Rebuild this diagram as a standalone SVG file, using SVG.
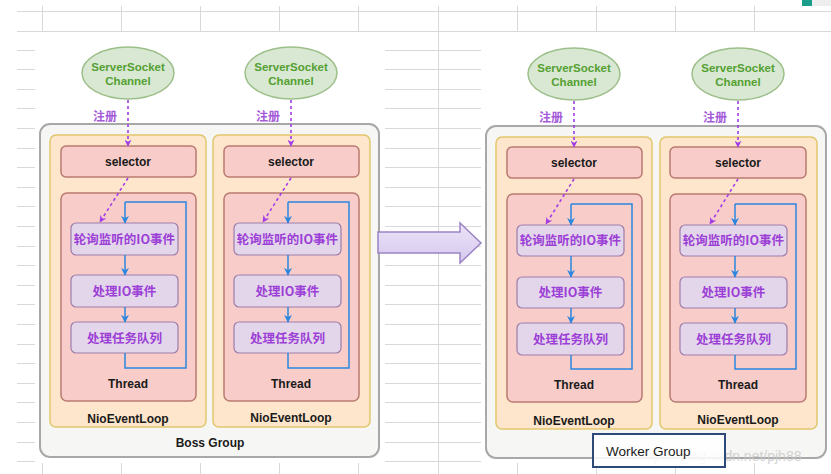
<svg xmlns="http://www.w3.org/2000/svg" width="831" height="474" viewBox="0 0 831 474">
<style>
.grid{stroke:#d9d9d9;stroke-width:1;fill:none}
.group{fill:#f6f6f4;stroke:#a8a8a8;stroke-width:2}
.loop{fill:#fde6cb;stroke:#e2c66c;stroke-width:1.5}
.red{fill:#f8cdc9;stroke:#b97a72;stroke-width:1.5}
.step{fill:#e4d6ea;stroke:#9c7daa;stroke-width:1.2}
.ell{fill:#d8e8d2;stroke:#9dbf8a;stroke-width:1.5}
.b{font-family:"Liberation Sans",Arial,sans-serif;font-weight:bold;font-size:12px;fill:#1a1a1a;text-anchor:middle}
.g{font-family:"Liberation Sans",Arial,sans-serif;font-weight:bold;font-size:11.5px;fill:#55a032;text-anchor:middle}
.cn{font-family:"Noto Sans CJK SC",sans-serif;font-weight:bold;font-size:12.5px;fill:#9b3fd6;text-anchor:middle}
.reg{font-family:"Noto Sans CJK SC",sans-serif;font-weight:bold;font-size:12px;fill:#a45bd8}
.pd{stroke:#a23be8;stroke-width:1.6;stroke-dasharray:3,3;fill:none;marker-end:url(#pa)}
.bl{stroke:#2a86de;stroke-width:1.5;fill:none}
.bla{stroke:#2a86de;stroke-width:1.5;fill:none;marker-end:url(#ba)}
</style>
<defs>
<marker id="pa" viewBox="0 0 10 10" refX="9" refY="5" markerWidth="7" markerHeight="7" orient="auto" markerUnits="userSpaceOnUse"><path d="M0,0 L10,5 L0,10 L3,5 z" fill="#a23be8"/></marker>
<marker id="ba" viewBox="0 0 10 10" refX="9" refY="5" markerWidth="8" markerHeight="8" orient="auto" markerUnits="userSpaceOnUse"><path d="M0,0 L10,5 L0,10 L3,5 z" fill="#2a86de"/></marker>
<linearGradient id="ag" x1="0" y1="0" x2="0" y2="1"><stop offset="0" stop-color="#ece4f8"/><stop offset="1" stop-color="#d6c8ee"/></linearGradient>
</defs>
<rect width="831" height="474" fill="#ffffff"/>
<g id="grid" class="grid">
<path d="M17,11.5H831 M17,31.5H831"/>
<path d="M42.5,6V31 M121.5,6V31 M200.5,6V31 M279.5,6V31 M358.5,6V31 M517.5,6V31 M596.5,6V31 M675.5,6V31 M754.5,6V31 M438.5,6V474"/>
<path d="M42.5,463V474 M121.5,463V474 M200.5,463V474 M279.5,463V474 M358.5,463V474 M517.5,463V474 M596.5,463V474 M675.5,463V474 M754.5,463V474"/>
<path d="M17,50.5H35 M17,69.5H35 M17,89.5H35 M17,108.5H35 M17,128.5H35 M17,148.5H35 M17,167.5H35 M17,187.5H35 M17,206.5H35 M17,226.5H35 M17,246.5H35 M17,265.5H35 M17,285.5H35 M17,304.5H35 M17,324.5H35 M17,344.5H35 M17,363.5H35 M17,383.5H35 M17,402.5H35 M17,422.5H35 M17,442.5H35 M17,461.5H35"/>
<path d="M385,50.5H481 M385,69.5H481 M385,89.5H481 M385,108.5H481 M385,128.5H481 M385,148.5H481 M385,167.5H481 M385,187.5H481 M385,206.5H481 M385,226.5H481 M385,246.5H481 M385,265.5H481 M385,285.5H481 M385,304.5H481 M385,324.5H481 M385,344.5H481 M385,363.5H481 M385,383.5H481 M385,402.5H481 M385,422.5H481 M385,442.5H481 M385,461.5H481"/>
</g>
<rect x="802" y="0" width="10" height="6" fill="#1a9e8a"/>
<rect x="812" y="0" width="19" height="6" fill="#eeeeee"/>

<g id="boss-group">
<rect class="group" x="40" y="124" width="339" height="333" rx="10"/>
<text class="b" x="210" y="447" font-size="12.5">Boss Group</text>
</g>
<g id="worker-group">
<rect class="group" x="486" y="126" width="340" height="332" rx="10"/>
</g>

<g id="boss-loop-1">
<rect class="loop" x="50" y="135" width="156" height="292" rx="6"/>
<text class="b" x="128" y="423" font-size="12.5">NioEventLoop</text>
<rect class="red" x="61" y="146" width="135" height="31" rx="5"/>
<text class="b" x="128" y="166">selector</text>
<rect class="red" x="61" y="193" width="135" height="208" rx="6"/>
<text class="b" x="128" y="388">Thread</text>
<rect class="step" x="71" y="223" width="107" height="32" rx="5"/>
<text class="cn" x="124.5" y="244">轮询监听的IO事件</text>
<rect class="step" x="71" y="275" width="107" height="32" rx="5"/>
<text class="cn" x="124.5" y="296">处理IO事件</text>
<rect class="step" x="71" y="322" width="107" height="31" rx="5"/>
<text class="cn" x="124.5" y="343">处理任务队列</text>
</g>
<g id="boss-loop-2">
<rect class="loop" x="213" y="135" width="157" height="292" rx="6"/>
<text class="b" x="291" y="422" font-size="12.5">NioEventLoop</text>
<rect class="red" x="224" y="146" width="135" height="31" rx="5"/>
<text class="b" x="291" y="166">selector</text>
<rect class="red" x="224" y="193" width="135" height="208" rx="6"/>
<text class="b" x="291" y="388">Thread</text>
<rect class="step" x="234" y="223" width="107" height="32" rx="5"/>
<text class="cn" x="287.5" y="244">轮询监听的IO事件</text>
<rect class="step" x="234" y="275" width="107" height="32" rx="5"/>
<text class="cn" x="287.5" y="296">处理IO事件</text>
<rect class="step" x="234" y="322" width="107" height="31" rx="5"/>
<text class="cn" x="287.5" y="343">处理任务队列</text>
</g>
<g id="worker-loop-1">
<rect class="loop" x="496" y="137" width="156" height="292" rx="6"/>
<text class="b" x="574" y="425" font-size="12.5">NioEventLoop</text>
<rect class="red" x="507" y="147" width="135" height="31" rx="5"/>
<text class="b" x="574" y="167">selector</text>
<rect class="red" x="507" y="194" width="135" height="208" rx="6"/>
<text class="b" x="574" y="389">Thread</text>
<rect class="step" x="517" y="225" width="107" height="31" rx="5"/>
<text class="cn" x="570.5" y="245">轮询监听的IO事件</text>
<rect class="step" x="517" y="277" width="107" height="31" rx="5"/>
<text class="cn" x="570.5" y="297">处理IO事件</text>
<rect class="step" x="517" y="323" width="107" height="32" rx="5"/>
<text class="cn" x="570.5" y="344">处理任务队列</text>
</g>
<g id="worker-loop-2">
<rect class="loop" x="660" y="137" width="157" height="292" rx="6"/>
<text class="b" x="738" y="424" font-size="12.5">NioEventLoop</text>
<rect class="red" x="670" y="147" width="136" height="31" rx="5"/>
<text class="b" x="738" y="167">selector</text>
<rect class="red" x="670" y="194" width="136" height="208" rx="6"/>
<text class="b" x="738" y="389">Thread</text>
<rect class="step" x="680" y="225" width="107" height="31" rx="5"/>
<text class="cn" x="733.5" y="245">轮询监听的IO事件</text>
<rect class="step" x="680" y="277" width="107" height="31" rx="5"/>
<text class="cn" x="733.5" y="297">处理IO事件</text>
<rect class="step" x="680" y="323" width="107" height="32" rx="5"/>
<text class="cn" x="733.5" y="344">处理任务队列</text>
</g>

<g id="channel-1"><ellipse class="ell" cx="128" cy="73" rx="46" ry="26"/><text class="g" x="128" y="71">ServerSocket</text><text class="g" x="128" y="85">Channel</text></g>
<g id="channel-2"><ellipse class="ell" cx="291" cy="73" rx="46" ry="26"/><text class="g" x="291" y="71">ServerSocket</text><text class="g" x="291" y="85">Channel</text></g>
<g id="channel-3"><ellipse class="ell" cx="574" cy="74" rx="46" ry="26"/><text class="g" x="574" y="72">ServerSocket</text><text class="g" x="574" y="86">Channel</text></g>
<g id="channel-4"><ellipse class="ell" cx="738" cy="74" rx="46" ry="26"/><text class="g" x="738" y="72">ServerSocket</text><text class="g" x="738" y="86">Channel</text></g>

<g id="connectors">
<path class="pd" d="M128,100V146"/><path class="pd" d="M291,100V146"/><path class="pd" d="M574,101V147"/><path class="pd" d="M738,101V147"/>
<path class="pd" d="M128,178L100,222"/><path class="pd" d="M291,178L263,222"/><path class="pd" d="M574,179L546,224"/><path class="pd" d="M738,179L710,224"/>
<path class="bla" d="M125,255V275"/><path class="bla" d="M125,307V322"/>
<path class="bl" d="M125,353V368H186V202H125"/><path class="bla" d="M125,202V223"/>
<path class="bla" d="M288,255V275"/><path class="bla" d="M288,307V322"/>
<path class="bl" d="M288,353V368H349V202H288"/><path class="bla" d="M288,202V223"/>
<path class="bla" d="M571,256V277"/><path class="bla" d="M571,308V323"/>
<path class="bl" d="M571,355V369H632V204H571"/><path class="bla" d="M571,204V225"/>
<path class="bla" d="M735,256V277"/><path class="bla" d="M735,308V323"/>
<path class="bl" d="M735,355V369H796V204H735"/><path class="bla" d="M735,204V225"/>
<polygon points="378,232 460,232 460,223 481,243 460,263 460,253 378,253" fill="url(#ag)" stroke="#9b84c4" stroke-width="1.5"/>
</g>
<text class="reg" x="93" y="121">注册</text>
<text class="reg" x="256" y="121">注册</text>
<text class="reg" x="539" y="122">注册</text>
<text class="reg" x="703" y="122">注册</text>

<text x="638" y="461" font-family="Liberation Sans,Arial,sans-serif" font-size="14" fill="#c9c9c9" opacity="0.8">https://blog.csdn.net/pjh88</text>
<g id="worker-label">
<rect x="593" y="434" width="132" height="33" fill="#ffffff" fill-opacity="0.85" stroke="#2e4a7a" stroke-width="2"/>
<text x="606" y="456" font-family="Liberation Sans,Arial,sans-serif" font-size="13.5" fill="#1a1a1a">Worker Group</text>
</g>
</svg>
